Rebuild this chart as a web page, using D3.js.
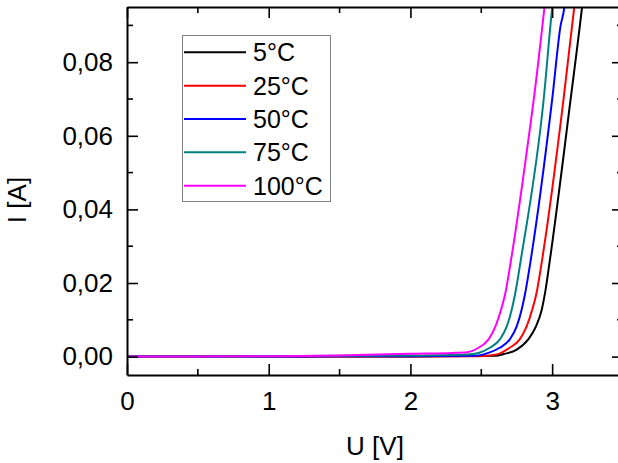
<!DOCTYPE html>
<html>
<head>
<meta charset="utf-8">
<script src="https://cdn.jsdelivr.net/npm/d3@7"></script>
<style>
  html, body { margin: 0; padding: 0; background: #fff; }
  svg { display: block; font-family: "Liberation Sans", Arial, sans-serif; }
</style>
</head>
<body>
<svg id="chart" width="618" height="463"></svg>
<script>
// ---- data ----
const seriesNames = ["5°C", "25°C", "50°C", "75°C", "100°C"];
const seriesColors = ["#000000", "#ff0000", "#0000ff", "#008080", "#ff00ff"];

const u5   = [0, 0.5, 1.0, 1.5, 2.0, 2.6, 2.66, 2.75, 2.83, 2.886, 2.927, 2.95, 2.985, 3.13, 3.21, 3.22];
const i5   = [0, 0, 0, 0, 0, 0.0002, 0.0007, 0.0019, 0.0046, 0.0082, 0.0128, 0.0173, 0.0265, 0.0698, 0.0946, 0.098];

const u25  = [0, 0.5, 1.0, 1.5, 2.0, 2.5, 2.61, 2.70, 2.77, 2.82, 2.86, 2.89, 2.93, 3.08, 3.155, 3.165];
const i25  = [0, 0, 0, 0, 0, 0.0001, 0.0006, 0.0024, 0.0046, 0.0082, 0.0128, 0.0173, 0.0265, 0.0698, 0.0946, 0.098];

const u50  = [0, 0.5, 1.0, 1.5, 2.0, 2.45, 2.55, 2.63, 2.70, 2.75, 2.785, 2.81, 2.85, 3.0, 3.06, 3.085, 3.095];
const i50  = [0, 0, 0, 0.0001, 0.0001, 0.0002, 0.0010, 0.0024, 0.0046, 0.0082, 0.0128, 0.0173, 0.0265, 0.0698, 0.090, 0.0946, 0.098];

const u75  = [0, 0.5, 1.0, 1.5, 2.0, 2.4, 2.48, 2.56, 2.63, 2.68, 2.715, 2.74, 2.78, 2.94, 3.0, 3.01];
const i75  = [0, 0, 0.0001, 0.0002, 0.0003, 0.0006, 0.0010, 0.0024, 0.0046, 0.0082, 0.0128, 0.0173, 0.0265, 0.0698, 0.0946, 0.098];

const u100 = [0, 0.5, 1.0, 1.5, 2.0, 2.3, 2.40, 2.48, 2.55, 2.60, 2.64, 2.67, 2.71, 2.85, 2.87, 2.945, 2.955];
const i100 = [0, 0, 0.0001, 0.0003, 0.0008, 0.0010, 0.0012, 0.0024, 0.0046, 0.0082, 0.0128, 0.0173, 0.0263, 0.064, 0.0698, 0.0946, 0.098];

const seriesU = [u5, u25, u50, u75, u100];
const seriesI = [i5, i25, i50, i75, i100];

const xMajorTicks = [0, 1, 2, 3];
const xMinorTicks = [0.5, 1.5, 2.5];
const yMajorTicks = [0, 0.02, 0.04, 0.06, 0.08];
const yMinorTicks = [0.01, 0.03, 0.05, 0.07, 0.09];

// ---- layout ----
const svg = d3.select("#chart");
const L = 127, R = 623, T = 7, B = 375;
const FS = 26;
const x = d3.scaleLinear().domain([0, 3.5]).range([L, R]);
const y = d3.scaleLinear().domain([-0.005, 0.095]).range([B, T]);

svg.append("defs").append("clipPath").attr("id", "clip")
  .append("rect").attr("x", L).attr("y", T).attr("width", R - L).attr("height", B - T);

// ---- curves ----
const line = d3.line().x(d => x(d[0])).y(d => y(d[1])).curve(d3.curveMonotoneX);
const gLines = svg.append("g").attr("clip-path", "url(#clip)");
seriesNames.forEach((name, k) => {
  const pts = seriesU[k].map((u, j) => [u, seriesI[k][j]]);
  gLines.append("path").datum(pts)
    .attr("d", line)
    .attr("fill", "none")
    .attr("stroke", seriesColors[k])
    .attr("stroke-width", 2);
});

// ---- axes ----
const fmt = d3.format(".2f");
const tickFmt = v => fmt(v).replace(".", ",");

const axisStyle = g => {
  g.select(".domain").attr("stroke", "#000").attr("stroke-width", 2);
  g.selectAll(".tick line").attr("stroke", "#000").attr("stroke-width", 1.6);
  g.selectAll(".tick text").attr("fill", "#000").attr("font-size", FS)
    .attr("font-family", "'Liberation Sans', Arial, sans-serif");
};

// bottom
const gb = svg.append("g").attr("transform", `translate(0,${B})`)
  .call(d3.axisBottom(x).tickValues(xMajorTicks).tickSizeInner(-11).tickSizeOuter(0).tickPadding(17).tickFormat(d3.format("d")));
gb.call(axisStyle);
gb.append("g").selectAll("line").data(xMinorTicks).join("line")
  .attr("x1", d => x(d)).attr("x2", d => x(d)).attr("y1", 0).attr("y2", -6)
  .attr("stroke", "#000").attr("stroke-width", 1.6);

// top
const gt = svg.append("g").attr("transform", `translate(0,${T})`)
  .call(d3.axisTop(x).tickValues(xMajorTicks).tickSizeInner(-11).tickSizeOuter(0).tickFormat(""));
gt.call(axisStyle);
gt.append("g").selectAll("line").data(xMinorTicks).join("line")
  .attr("x1", d => x(d)).attr("x2", d => x(d)).attr("y1", 0).attr("y2", 6)
  .attr("stroke", "#000").attr("stroke-width", 1.6);

// left
const gl = svg.append("g").attr("transform", `translate(${L},0)`)
  .call(d3.axisLeft(y).tickValues(yMajorTicks).tickSizeInner(-11).tickSizeOuter(0).tickPadding(14).tickFormat(tickFmt));
gl.call(axisStyle);
gl.append("g").selectAll("line").data(yMinorTicks).join("line")
  .attr("y1", d => y(d)).attr("y2", d => y(d)).attr("x1", 0).attr("x2", 6)
  .attr("stroke", "#000").attr("stroke-width", 1.6);

// right
const gr = svg.append("g").attr("transform", `translate(${R},0)`)
  .call(d3.axisRight(y).tickValues(yMajorTicks).tickSizeInner(-11).tickSizeOuter(0).tickFormat(""));
gr.call(axisStyle);
gr.append("g").selectAll("line").data(yMinorTicks).join("line")
  .attr("y1", d => y(d)).attr("y2", d => y(d)).attr("x1", 0).attr("x2", -6)
  .attr("stroke", "#000").attr("stroke-width", 1.6);

// axis titles
svg.append("text").attr("x", (L + R) / 2).attr("y", 455)
  .attr("text-anchor", "middle").attr("font-size", FS).attr("fill", "#000")
  .text("U [V]");
svg.append("text")
  .attr("transform", `translate(26,200) rotate(-90)`)
  .attr("text-anchor", "middle").attr("font-size", FS).attr("fill", "#000")
  .text("I [A]");

// ---- legend ----
const lg = svg.append("g");
lg.append("rect").attr("x", 182.5).attr("y", 35.5).attr("width", 148).attr("height", 166)
  .attr("fill", "#fff").attr("stroke", "#808080").attr("stroke-width", 1);
seriesNames.forEach((name, k) => {
  const yy = 52.3 + k * 33.35;
  lg.append("line").attr("x1", 184).attr("x2", 246).attr("y1", yy).attr("y2", yy)
    .attr("stroke", seriesColors[k]).attr("stroke-width", 2);
  lg.append("text").attr("x", 253).attr("y", yy + 9).attr("font-size", 25).attr("fill", "#000")
    .text(name);
});
</script>
</body>
</html>
